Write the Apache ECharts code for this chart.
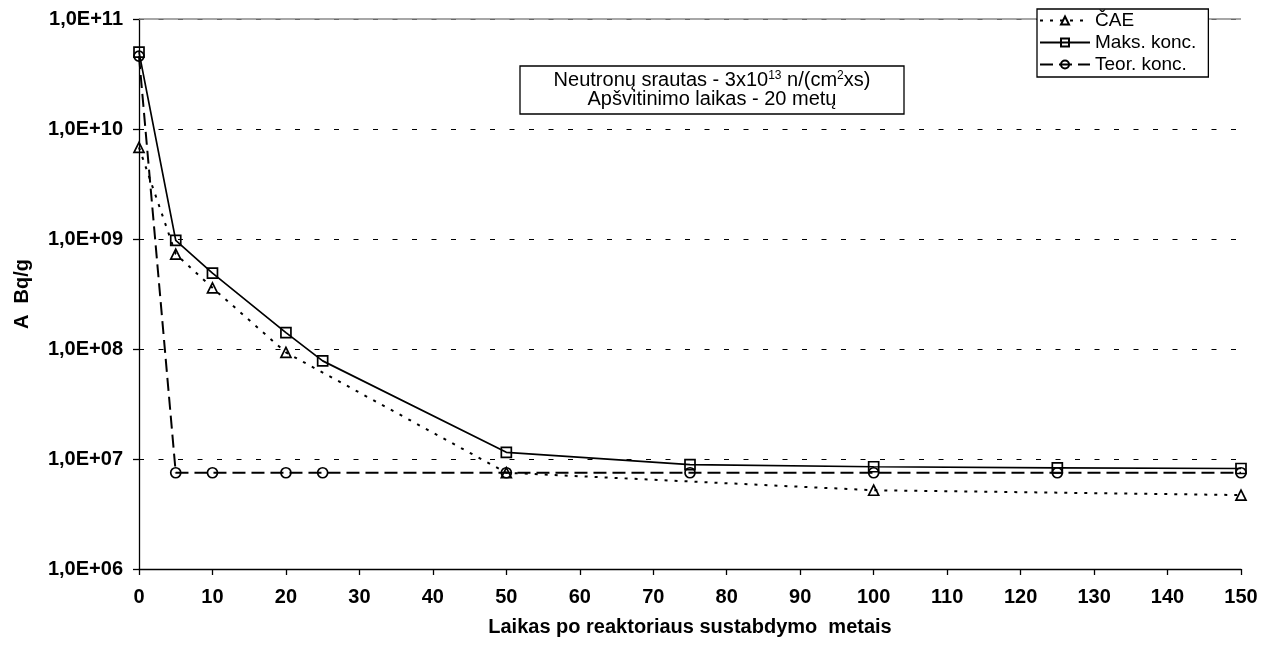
<!DOCTYPE html>
<html>
<head>
<meta charset="utf-8">
<script src="https://cdn.jsdelivr.net/npm/echarts@6/dist/echarts.min.js"></script>
<style>
html,body{margin:0;padding:0;background:#fff;}
#chart{width:1268px;height:652px;}
</style>
</head>
<body>
<div id="chart"></div>
<script>
// ---- data ----
const caeX = [0, 5, 10, 20, 50, 100, 150];
const caeY = [6.8e9, 7.3e8, 3.6e8, 9.3e7, 7.5e6, 5.2e6, 4.7e6];
const maksX = [0, 5, 10, 20, 25, 50, 75, 100, 125, 150];
const maksY = [5.0e10, 9.7e8, 4.9e8, 1.41e8, 7.8e7, 1.15e7, 8.9e6, 8.5e6, 8.3e6, 8.2e6];
const teorX = [0, 5, 10, 20, 25, 50, 75, 100, 125, 150];
const teorY = [4.6e10, 7.5e6, 7.5e6, 7.5e6, 7.5e6, 7.5e6, 7.5e6, 7.5e6, 7.5e6, 7.5e6];
const seriesNames = ['ČAE', 'Maks. konc.', 'Teor. konc.'];
const xTitle = 'Laikas po reaktoriaus sustabdymo  metais';
const yTitle = 'A  Bq/g';

const pairs = (xs, ys) => xs.map((x, i) => [x, ys[i]]);
const font = 'Arial, "Liberation Sans", sans-serif';

const chart = echarts.init(document.getElementById('chart'), null, {renderer: 'canvas'});
const lineBase = (name, xs, ys, symbol, type, width) => ({
  name: name,
  type: 'line',
  data: pairs(xs, ys),
  symbol: symbol,
  symbolSize: 10,
  showAllSymbol: true,
  animation: false,
  lineStyle: {color: '#000', width: width, type: type},
  itemStyle: {color: 'rgba(255,255,255,0)', borderColor: '#000', borderWidth: 1.7},
  emphasis: {disabled: true},
  z: 3
});

chart.setOption({
  animation: false,
  backgroundColor: '#fff',
  grid: {left: 139, right: 27, top: 19, bottom: 83, containLabel: false},
  xAxis: {
    type: 'value', min: 0, max: 150, interval: 10,
    name: xTitle, nameLocation: 'middle', nameGap: 48,
    nameTextStyle: {fontFamily: font, fontWeight: 'bold', fontSize: 20, color: '#000'},
    axisLine: {lineStyle: {color: '#000', width: 1.3}},
    axisTick: {inside: false, length: 6, lineStyle: {color: '#000', width: 1.3}},
    axisLabel: {fontFamily: font, fontWeight: 'bold', fontSize: 20, color: '#000', margin: 18},
    splitLine: {show: false}
  },
  yAxis: {
    type: 'log', logBase: 10, min: 1e6, max: 1e11,
    name: yTitle, nameLocation: 'middle', nameGap: 107, nameRotate: 90,
    nameTextStyle: {fontFamily: font, fontWeight: 'bold', fontSize: 20, color: '#000'},
    axisLine: {show: true, onZero: false, lineStyle: {color: '#000', width: 1.3}},
    axisTick: {show: true, inside: false, length: 6, lineStyle: {color: '#000', width: 1.3}},
    minorTick: {show: false},
    axisLabel: {
      fontFamily: font, fontWeight: 'bold', fontSize: 20, color: '#000', margin: 16,
      formatter: v => '1,0E+' + String(Math.round(Math.log10(v))).padStart(2, '0')
    },
    splitLine: {show: true, lineStyle: {color: '#000', type: [5, 14.5], width: 1}}
  },
  legend: {
    show: true, orient: 'vertical', left: 1037, top: 9,
    data: seriesNames,
    backgroundColor: '#fff', borderColor: '#000', borderWidth: 1.3,
    padding: [1, 12, 2, 2], itemGap: 1, itemWidth: 50, itemHeight: 10,
    textStyle: {fontFamily: font, fontSize: 19, color: '#000', lineHeight: 21}
  },
  graphic: [
    {type: 'line', shape: {x1: 139, y1: 19, x2: 1241, y2: 19}, style: {stroke: '#8a8a8a', lineWidth: 1.5}, z: 1},
    {
      type: 'rect', shape: {x: 520, y: 66, width: 384, height: 48},
      style: {fill: '#fff', stroke: '#000', lineWidth: 1.3}, z: 10
    },
    {
      type: 'text', x: 712, y: 90, z: 11,
      style: {
        align: 'center', verticalAlign: 'middle',
        text: '{n|Neutronų srautas - 3x10}{s|13}{n| n/(cm}{s|2}{n|xs)}\n{n|Apšvitinimo laikas - 20 metų}',
        rich: {
          n: {fontFamily: font, fontSize: 20, color: '#000', lineHeight: 19},
          s: {fontFamily: font, fontSize: 12, color: '#000', padding: [0, 0, 9, 0], lineHeight: 19}
        }
      }
    }
  ],
  series: [
    lineBase(seriesNames[0], caeX, caeY, 'triangle', [3, 7], 2),
    lineBase(seriesNames[1], maksX, maksY, 'rect', 'solid', 1.7),
    lineBase(seriesNames[2], teorX, teorY, 'circle', [13, 6], 2)
  ]
});
</script>
</body>
</html>
